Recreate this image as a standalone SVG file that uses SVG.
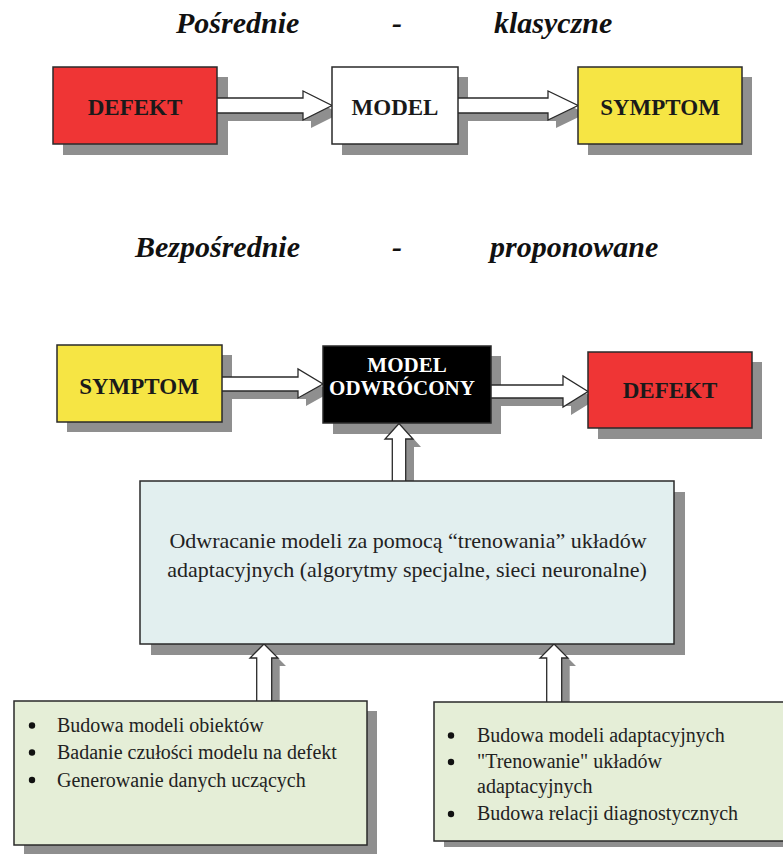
<svg xmlns="http://www.w3.org/2000/svg" width="783" height="854" viewBox="0 0 783 854">
<style>
.bg{fill:#ffffff}
.sh{fill:#8f8f8f}
.box{stroke:#2a2a2a;stroke-width:1.5}
.red{fill:#ef3535}
.yel{fill:#f6e544}
.wht{fill:#ffffff}
.blk{fill:#000000}
.blue{fill:#e2efef}
.grn{fill:#e5eed7}
.arr{fill:#ffffff;stroke:#2a2a2a;stroke-width:1.3;stroke-linejoin:miter}
.ash{fill:#8f8f8f}
.title{font-family:"Liberation Serif","Times New Roman",serif;font-weight:bold;font-style:italic;font-size:30px;fill:#111}
.lbl{font-family:"Liberation Serif","Times New Roman",serif;font-weight:bold;font-size:23px;fill:#1a1a1a;text-anchor:middle}
.lblw{font-family:"Liberation Serif","Times New Roman",serif;font-weight:bold;font-size:21px;fill:#ffffff;text-anchor:middle}
.body{font-family:"Liberation Serif","Times New Roman",serif;font-size:22px;fill:#222;text-anchor:middle}
.item{font-family:"Liberation Serif","Times New Roman",serif;font-size:20px;fill:#222}
.dot{fill:#111}
</style>
<rect class="bg" x="0" y="0" width="783" height="854"/>

<g id="titles">
<text class="title" x="176" y="33">Pośrednie</text>
<text class="title" x="397" y="33" text-anchor="middle">-</text>
<text class="title" x="494" y="33">klasyczne</text>
<text class="title" x="135" y="257">Bezpośrednie</text>
<text class="title" x="397" y="257" text-anchor="middle">-</text>
<text class="title" x="490" y="257">proponowane</text>
</g>

<g id="shadows">
<rect class="sh" x="63" y="77" width="165" height="78"/>
<rect class="sh" x="342" y="77" width="126" height="78"/>
<rect class="sh" x="588" y="77" width="164" height="78"/>
<rect class="sh" x="67" y="355" width="165" height="77"/>
<rect class="sh" x="333" y="356" width="168" height="78"/>
<rect class="sh" x="598" y="362" width="164" height="77"/>
<rect class="sh" x="151" y="492" width="534" height="163"/>
<rect class="sh" x="24" y="711" width="353" height="143"/>
<rect class="sh" x="444" y="712" width="350" height="135"/>
</g>

<g id="connectors">
<g id="a1">
<path class="ash" d="M225,106 H311 V99 L340,113.5 L311,128 V121 H225 Z"/>
<path class="arr" d="M217,98 H303 V91 L332,105.5 L303,120 V113 H217"/>
</g>
<g id="a2">
<path class="ash" d="M466,106 H556 V99 L586,113.5 L556,128 V121 H466 Z"/>
<path class="arr" d="M458,98 H548 V91 L578,105.5 L548,120 V113 H458"/>
</g>
<g id="a3">
<path class="ash" d="M230,385 H306 V377 L331,392 L306,406 V399 H230 Z"/>
<path class="arr" d="M222,377 H298 V369 L323,384 L298,398 V391 H222"/>
</g>
<g id="a4">
<path class="ash" d="M499,393 H571 V384 L596,399.5 L571,415 V406 H499 Z"/>
<path class="arr" d="M491,385 H563 V376 L588,391.5 L563,407 V398 H491"/>
</g>
<g id="a5">
<path class="ash" d="M400,489 V447 H393 L407,431.5 L421,447 H414 V489 Z"/>
<path class="arr" d="M392.3,481 V439 H385 L399,423.5 L413,439 H405.7 V481"/>
</g>
<g id="a6">
<path class="ash" d="M264.7,709 V666 H258 L272,652 L286,666 H279.7 V709 Z"/>
<path class="arr" d="M256.7,701 V658 H250 L264,644 L278,658 H271.7 V701"/>
</g>
<g id="a7">
<path class="ash" d="M554.7,710 V666 H548 L562,652 L576,666 H569.7 V710 Z"/>
<path class="arr" d="M546.7,702 V658 H540 L554,644 L568,658 H561.7 V702"/>
</g>
</g>

<g id="defekt1">
<rect class="box red" x="53" y="67" width="164" height="77"/>
<text class="lbl" x="135" y="115">DEFEKT</text>
</g>
<g id="model1">
<rect class="box wht" x="332" y="67" width="126" height="77"/>
<text class="lbl" x="395" y="115">MODEL</text>
</g>
<g id="symptom1">
<rect class="box yel" x="578" y="67" width="164" height="77"/>
<text class="lbl" x="660" y="115">SYMPTOM</text>
</g>

<g id="symptom2">
<rect class="box yel" x="57" y="345" width="165" height="77"/>
<text class="lbl" x="139" y="394">SYMPTOM</text>
</g>
<g id="model2">
<rect class="box blk" x="323" y="346" width="168" height="77"/>
<text class="lblw" x="407" y="372">MODEL</text>
<text class="lblw" x="402" y="395">ODWRÓCONY</text>
</g>
<g id="defekt2">
<rect class="box red" x="588" y="352" width="164" height="76"/>
<text class="lbl" x="670" y="398">DEFEKT</text>
</g>

<g id="inversion">
<rect class="box blue" x="140" y="481" width="534" height="163"/>
<text class="body" x="408" y="548">Odwracanie modeli za pomocą  “trenowania” układów</text>
<text class="body" x="407" y="577">adaptacyjnych (algorytmy specjalne, sieci neuronalne)</text>
</g>

<g id="left-tasks">
<rect class="box grn" x="14" y="701" width="353" height="144"/>
<circle class="dot" cx="32" cy="725.5" r="3.2"/>
<text class="item" x="57" y="732">Budowa modeli obiektów</text>
<circle class="dot" cx="32" cy="752.5" r="3.2"/>
<text class="item" x="57" y="759">Badanie czułości modelu na defekt</text>
<circle class="dot" cx="32" cy="780" r="3.2"/>
<text class="item" x="57" y="786.5">Generowanie danych uczących</text>
</g>

<g id="right-tasks">
<rect class="box grn" x="434" y="702" width="360" height="139"/>
<circle class="dot" cx="451" cy="735.5" r="3.2"/>
<text class="item" x="477" y="742">Budowa modeli adaptacyjnych</text>
<circle class="dot" cx="451" cy="762" r="3.2"/>
<text class="item" x="477" y="768">"Trenowanie" układów</text>
<text class="item" x="477" y="793">adaptacyjnych</text>
<circle class="dot" cx="451" cy="814" r="3.2"/>
<text class="item" x="477" y="820">Budowa relacji diagnostycznych</text>
</g>
</svg>
